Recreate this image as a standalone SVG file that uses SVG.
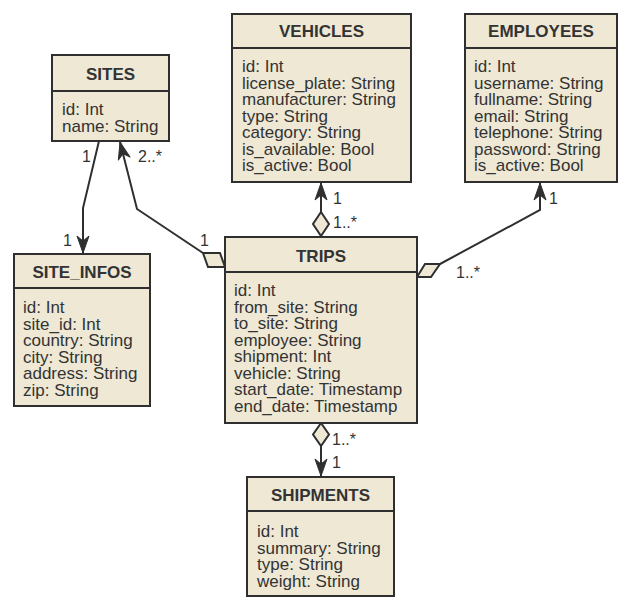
<svg xmlns="http://www.w3.org/2000/svg" width="630" height="610" viewBox="0 0 630 610">
<style>
.box{fill:#EEE8D5;stroke:#2F2F2F;stroke-width:2}
.sep{stroke:#2F2F2F;stroke-width:2}
.title{font-family:"Liberation Sans",Arial,sans-serif;font-weight:bold;font-size:17px;fill:#333}
.attr{font-family:"Liberation Sans",Arial,sans-serif;font-size:17px;fill:#333}
.lbl{font-family:"Liberation Sans",Arial,sans-serif;font-size:16px;fill:#333}
.edge{fill:none;stroke:#2F2F2F;stroke-width:2}
.dia{fill:#EEE8D5;stroke:#2F2F2F;stroke-width:2;stroke-linejoin:miter}
</style>
<defs>
<marker id="arr" viewBox="-19 -8 21 16" markerWidth="21" markerHeight="16" refX="0" refY="0" orient="auto" markerUnits="userSpaceOnUse">
<path d="M0,0 L-17,-6 L-12,0 L-17,6 Z" fill="#2F2F2F" stroke="#2F2F2F" stroke-width="1" stroke-linejoin="round"/>
</marker>
</defs>
<rect width="630" height="610" fill="#FFFFFF"/>

<g id="connectors">
<polyline class="edge" points="99,141 83,208 83,253" marker-end="url(#arr)"/>
<polyline class="edge" points="203,253 137,209 120,142" marker-end="url(#arr)"/>
<polygon class="dia" points="203,253 220,253 225,267 208,267"/>
<line class="edge" x1="321" y1="212" x2="321" y2="183" marker-end="url(#arr)"/>
<polygon class="dia" points="321,212 313,224 321,236 329,224"/>
<polyline class="edge" points="440,264 540,210 540,183" marker-end="url(#arr)"/>
<polygon class="dia" points="417,277 425,264 440,264 431,277"/>
<line class="edge" x1="321" y1="446" x2="321" y2="476" marker-end="url(#arr)"/>
<polygon class="dia" points="321,423 313,434.5 321,446 329,434.5"/>
<text class="lbl" x="82" y="162">1</text>
<text class="lbl" x="63" y="246">1</text>
<text class="lbl" x="138" y="162">2..*</text>
<text class="lbl" x="200" y="246">1</text>
<text class="lbl" x="333" y="204">1</text>
<text class="lbl" x="333" y="228">1..*</text>
<text class="lbl" x="549" y="204">1</text>
<text class="lbl" x="456" y="278">1..*</text>
<text class="lbl" x="332" y="445">1..*</text>
<text class="lbl" x="332" y="468">1</text>
</g>

<g id="SITES">
<rect class="box" x="52" y="55" width="117" height="86"/>
<line class="sep" x1="52" y1="91" x2="169" y2="91"/>
<text class="title" x="110.5" y="80" text-anchor="middle">SITES</text>
<text class="attr" x="62" y="115">id: Int</text>
<text class="attr" x="62" y="131.5">name: String</text>
</g>

<g id="SITE_INFOS">
<rect class="box" x="14" y="254" width="136" height="152"/>
<line class="sep" x1="14" y1="288" x2="150" y2="288"/>
<text class="title" x="82" y="278" text-anchor="middle">SITE_INFOS</text>
<text class="attr" x="23" y="313">id: Int</text>
<text class="attr" x="23" y="329.5">site_id: Int</text>
<text class="attr" x="23" y="346">country: String</text>
<text class="attr" x="23" y="362.5">city: String</text>
<text class="attr" x="23" y="379">address: String</text>
<text class="attr" x="23" y="395.5">zip: String</text>
</g>

<g id="VEHICLES">
<rect class="box" x="232" y="14" width="179" height="168"/>
<line class="sep" x1="232" y1="48" x2="411" y2="48"/>
<text class="title" x="321.5" y="37" text-anchor="middle">VEHICLES</text>
<text class="attr" x="242" y="72">id: Int</text>
<text class="attr" x="242" y="88.5">license_plate: String</text>
<text class="attr" x="242" y="105">manufacturer: String</text>
<text class="attr" x="242" y="121.5">type: String</text>
<text class="attr" x="242" y="138">category: String</text>
<text class="attr" x="242" y="154.5">is_available: Bool</text>
<text class="attr" x="242" y="171">is_active: Bool</text>
</g>

<g id="EMPLOYEES">
<rect class="box" x="465" y="14" width="152" height="168"/>
<line class="sep" x1="465" y1="48" x2="617" y2="48"/>
<text class="title" x="541" y="37" text-anchor="middle">EMPLOYEES</text>
<text class="attr" x="474" y="72">id: Int</text>
<text class="attr" x="474" y="88.5">username: String</text>
<text class="attr" x="474" y="105">fullname: String</text>
<text class="attr" x="474" y="121.5">email: String</text>
<text class="attr" x="474" y="138">telephone: String</text>
<text class="attr" x="474" y="154.5">password: String</text>
<text class="attr" x="474" y="171">is_active: Bool</text>
</g>

<g id="TRIPS">
<rect class="box" x="225" y="237" width="192" height="186"/>
<line class="sep" x1="225" y1="272" x2="417" y2="272"/>
<text class="title" x="321" y="262" text-anchor="middle">TRIPS</text>
<text class="attr" x="234" y="296">id: Int</text>
<text class="attr" x="234" y="312.5">from_site: String</text>
<text class="attr" x="234" y="329">to_site: String</text>
<text class="attr" x="234" y="345.5">employee: String</text>
<text class="attr" x="234" y="362">shipment: Int</text>
<text class="attr" x="234" y="378.5">vehicle: String</text>
<text class="attr" x="234" y="395">start_date: Timestamp</text>
<text class="attr" x="234" y="411.5">end_date: Timestamp</text>
</g>

<g id="SHIPMENTS">
<rect class="box" x="247" y="477" width="147" height="119"/>
<line class="sep" x1="247" y1="511" x2="394" y2="511"/>
<text class="title" x="320.5" y="501" text-anchor="middle">SHIPMENTS</text>
<text class="attr" x="257" y="537">id: Int</text>
<text class="attr" x="257" y="553.5">summary: String</text>
<text class="attr" x="257" y="570">type: String</text>
<text class="attr" x="257" y="586.5">weight: String</text>
</g>
</svg>
